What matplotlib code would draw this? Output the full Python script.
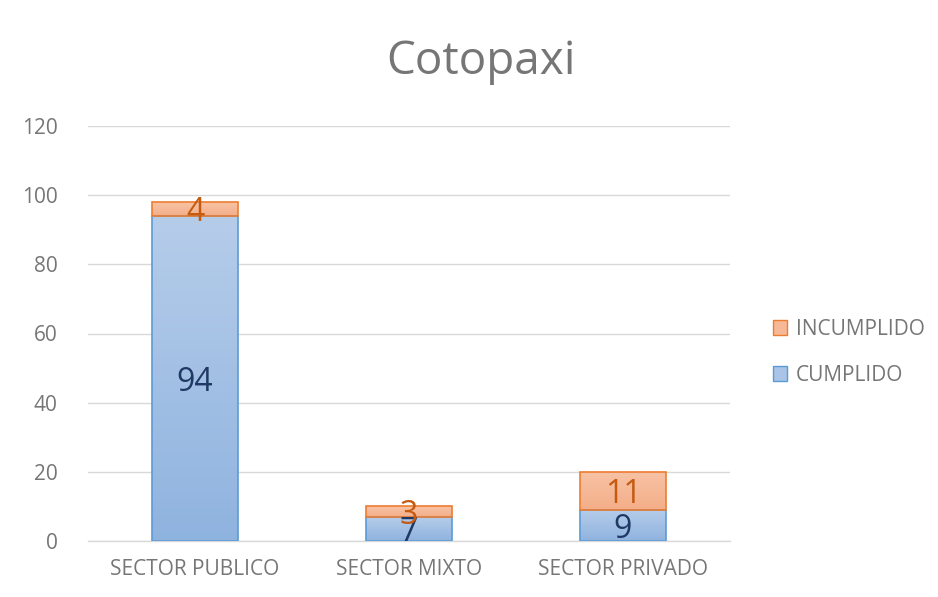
import matplotlib
matplotlib.use("Agg")
import matplotlib.pyplot as plt
import numpy as np
from matplotlib.colors import LinearSegmentedColormap
from matplotlib.patches import Patch

categories = ["SECTOR PUBLICO", "SECTOR MIXTO", "SECTOR PRIVADO"]
cumplido = [94, 7, 9]
incumplido = [4, 3, 11]
yticks = [0, 20, 40, 60, 80, 100, 120]
title = "Cotopaxi"

plt.rcParams['font.family'] = ['Open Sans', 'DejaVu Sans']

fig = plt.figure(figsize=(9.38, 5.97), dpi=100)
ax = fig.add_axes([88/938, 1-541/597, (730-88)/938, (541-126)/597])

x = np.arange(len(categories))
w = 0.4

blue_cmap = LinearSegmentedColormap.from_list("b", ["#8fb3df", "#b6cdea"])
orange_cmap = LinearSegmentedColormap.from_list("o", ["#f4ae88", "#f7c3a5"])

def grad_bars(bars, cmap):
    grad = np.linspace(0, 1, 256).reshape(-1, 1)
    for b in bars:
        b.set_facecolor("none")
        x0, y0 = b.get_x(), b.get_y()
        bw, bh = b.get_width(), b.get_height()
        im = ax.imshow(grad, cmap=cmap, origin="lower", aspect="auto",
                       extent=[x0, x0 + bw, y0, y0 + bh], zorder=2)
        im.set_clip_path(b)

b1 = ax.bar(x, cumplido, w, edgecolor="#5b9bd5", linewidth=1.2, zorder=3)
b2 = ax.bar(x, incumplido, w, bottom=cumplido, edgecolor="#ed7d31", linewidth=1.2, zorder=3)
grad_bars(b1, blue_cmap)
grad_bars(b2, orange_cmap)

for xi, c, i in zip(x, cumplido, incumplido):
    ax.text(xi, c/2, str(c), ha="center", va="center_baseline", fontsize=23, color="#1f3864", zorder=5)
    ax.text(xi, c + i/2, str(i), ha="center", va="center_baseline", fontsize=23, color="#c55a11", zorder=5)

ax.set_xlim(-0.5, 2.5)
ax.set_ylim(0, 120)
ax.set_yticks(yticks)
ax.set_xticks(x)
ax.set_xticklabels(categories)
ax.tick_params(axis="both", length=0, labelsize=15, labelcolor="#767676")
ax.tick_params(axis="y", pad=22)
ax.tick_params(axis="x", pad=13)
ax.grid(axis="y", color="#d9d9d9", linewidth=1, zorder=0)
ax.set_axisbelow(True)
for s in ["top", "right", "left"]:
    ax.spines[s].set_visible(False)
ax.spines["bottom"].set_color("#d9d9d9")
ax.spines["bottom"].set_linewidth(1)

fig.text(481/938, 1-62/597, title, ha="center", va="center", fontsize=33, color="#767676")

handles = [Patch(facecolor="#f6b896", edgecolor="#ed7d31", label="INCUMPLIDO"),
           Patch(facecolor="#a9c4e6", edgecolor="#5b9bd5", label="CUMPLIDO")]
fig.legend(handles=handles, loc="center left", bbox_to_anchor=(754/938, 1-352/597),
           frameon=False, fontsize=15, labelcolor="#767676", handlelength=0.7,
           handleheight=0.7, handletextpad=0.4, labelspacing=1.2)

fig.savefig("out.png", dpi=100)
